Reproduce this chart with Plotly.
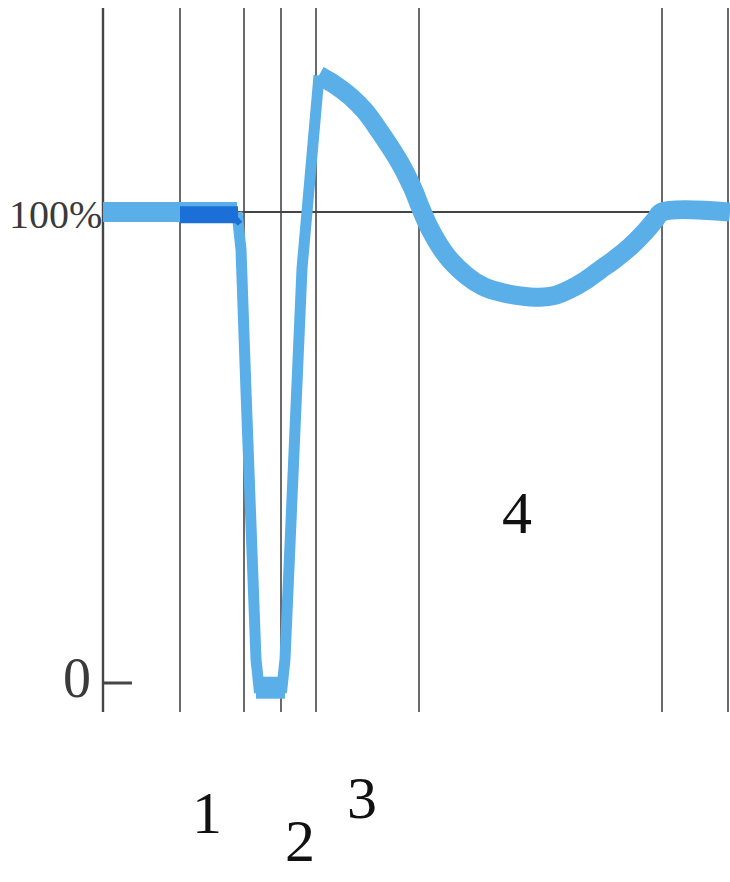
import plotly.graph_objects as go

# Phase boundaries (time, arbitrary units)
boundaries = [103, 180, 244, 281, 316, 419, 662, 728]

# Resting level before the spike (time, % of resting value)
rest_t = [103, 180, 237]
rest_v = [100, 100, 100]
# Fast depolarisation / repolarisation (thin part)
fast_t = [237, 241, 246, 251, 256, 259, 282, 285, 290, 296, 302, 307, 312, 316, 319]
fast_v = [100, 92, 62, 30, 5, -1, -1, 5, 30, 62, 88, 100, 113, 124, 129]
# Slow recovery with overshoot and undershoot (thick part)
slow_t = [319, 335, 350, 365, 380, 400, 413, 420, 430, 447, 467, 483, 500, 520, 540, 555,
          570, 585, 600, 615, 630, 645, 655, 662, 730]
slow_v = [129, 127, 124.6, 121.4, 117, 110.4, 104.9, 101.2, 96.4, 90.6, 86.4, 84.2, 83, 82.2, 81.9, 82.3,
          83.6, 85.4, 87.7, 90, 92.6, 95.8, 98.3, 100, 100]
# Bottom of the spike
bottom_t = [256, 285]
bottom_v = [-1, -1]
# Darker overlay segment in phase 1
dark_t = [180, 238]
dark_v = [99.4, 99.4]
dark_tail_t = [236, 240]
dark_tail_v = [98.5, 97.5]

# Labels
tick_labels = ["100%", "0"]
tick_values = [100, 0]
phase_labels = ["1", "2", "3", "4"]
phase_label_t = [207, 300, 362, 517]
phase_label_v = [-27.5, -33.5, -24.5, 36]

PX_PER_PCT = 4.71
Y0_PX = 683


def px2v(py):
    return (Y0_PX - py) / PX_PER_PCT


fig = go.Figure()

gray = "#454545"
line_top, line_bot = px2v(8), px2v(712)
for i, b in enumerate(boundaries):
    fig.add_trace(go.Scatter(x=[b, b], y=[line_bot, line_top], mode="lines",
                             line=dict(color=gray, width=2.4 if i == 0 else 1.6),
                             hoverinfo="skip", showlegend=False))
# 100% reference line
fig.add_trace(go.Scatter(x=[boundaries[0], boundaries[6]], y=[100, 100], mode="lines",
                         line=dict(color=gray, width=2), hoverinfo="skip", showlegend=False))
# 0 tick
fig.add_trace(go.Scatter(x=[boundaries[0], 132], y=[0, 0], mode="lines",
                         line=dict(color=gray, width=3), hoverinfo="skip", showlegend=False))

blue = "#5aafe8"
fig.add_trace(go.Scatter(x=rest_t, y=rest_v, mode="lines",
                         line=dict(color=blue, width=20), showlegend=False))
fig.add_trace(go.Scatter(x=bottom_t, y=bottom_v, mode="lines",
                         line=dict(color=blue, width=22), showlegend=False))
fig.add_trace(go.Scatter(x=fast_t, y=fast_v, mode="lines",
                         line=dict(color=blue, width=11), showlegend=False))
fig.add_trace(go.Scatter(x=slow_t, y=slow_v, mode="lines",
                         line=dict(color=blue, width=19, shape="spline", smoothing=1.0),
                         showlegend=False))
dark = "#1c6fd6"
fig.add_trace(go.Scatter(x=dark_t, y=dark_v, mode="lines",
                         line=dict(color=dark, width=17), showlegend=False))
fig.add_trace(go.Scatter(x=dark_tail_t, y=dark_tail_v, mode="lines",
                         line=dict(color=dark, width=6), showlegend=False))

font_family = "Liberation Serif, Times New Roman, serif"
fig.add_annotation(x=55, y=tick_values[0] - 0.5, text=tick_labels[0], showarrow=False,
                   font=dict(size=40, family=font_family, color="#3a3a3a"),
                   xanchor="center", yanchor="middle")
fig.add_annotation(x=77, y=tick_values[1] + 1, text=tick_labels[1], showarrow=False,
                   font=dict(size=56, family=font_family, color="#3a3a3a"),
                   xanchor="center", yanchor="middle")
for lab, t, v in zip(phase_labels, phase_label_t, phase_label_v):
    fig.add_annotation(x=t, y=v, text=lab, showarrow=False,
                       font=dict(size=60, family=font_family, color="#111111"),
                       xanchor="center", yanchor="middle")

fig.update_layout(
    width=730, height=882,
    margin=dict(l=0, r=0, t=0, b=0),
    paper_bgcolor="white", plot_bgcolor="white",
    xaxis=dict(range=[0, 730], visible=False, fixedrange=True),
    yaxis=dict(range=[px2v(882), px2v(0)], visible=False, fixedrange=True),
)
fig.write_html("out.html", config={"displayModeBar": False},
               post_script="document.body.style.margin='0';document.body.style.overflow='hidden';")
